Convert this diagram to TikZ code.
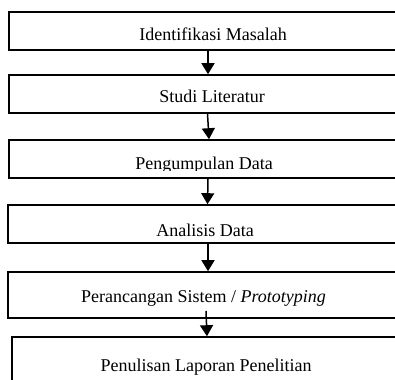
\documentclass[tikz,border=0pt]{standalone}
\usepackage{fontspec}
\setmainfont{Liberation Serif}
\usetikzlibrary{arrows.meta}
\begin{document}
\begin{tikzpicture}[x=1pt,y=-1pt,
  box/.style={draw=black, line width=1.6pt, inner sep=0pt, minimum width=412pt},
  txt/.style={inner sep=0pt, anchor=base, font=\fontsize{18}{20}\selectfont},
  arr/.style={line width=1.5pt, -{Triangle[width=13pt,length=11pt]}}]
\useasboundingbox (0,0) rectangle (395,379);
\clip (0,0) rectangle (395,379);
% boxes
\node[box, minimum height=38pt] (b1) at (215,31) {};
\node[box, minimum height=38pt] (b2) at (215,94) {};
\node[box, minimum height=38pt] (b3) at (215,159) {};
\node[box, minimum height=38pt, minimum width=413pt] (b4) at (214.5,224) {};
\node[box, minimum height=46pt, minimum width=413pt] (b5) at (214.5,295) {};
\node[box, minimum height=63pt, minimum width=409pt] (b6) at (216.5,368.5) {};
% texts
\begin{scope}
  \clip (0,12) rectangle (395,42);
  \node[txt] (t1) at (213,41) {Identifikasi Masalah};
\end{scope}
\node[txt] (t2) at (212,103) {Studi Literatur};
\begin{scope}
  \clip (0,140) rectangle (395,170.5);
  \node[txt] (t3) at (204,170) {Pengumpulan Data};
\end{scope}
\begin{scope}
  \clip (0,205) rectangle (395,236.5);
  \node[txt] (t4) at (205,236) {Analisis Data};
\end{scope}
\node[txt] (t5) at (203.5,302) {Perancangan Sistem / \textit{Prototyping}};
\node[txt] (t6) at (206,371) {Penulisan Laporan Penelitian};
% arrows
\draw[arr] ([xshift=-7pt]b1.south) -- ([xshift=-7pt]b2.north);
\draw[arr] ([xshift=-7.5pt]b2.south) -- ([xshift=-6pt]b3.north);
\draw[arr] ([xshift=-7pt]b3.south) -- ([xshift=-7pt]b4.north);
\draw[arr] ([xshift=-6.5pt]b4.south) -- ([xshift=-6.5pt]b5.north);
\draw[arr] ([xshift=-8.5pt,yshift=8pt]b5.south) -- ([xshift=-9.5pt]b6.north);
\end{tikzpicture}
\end{document}
